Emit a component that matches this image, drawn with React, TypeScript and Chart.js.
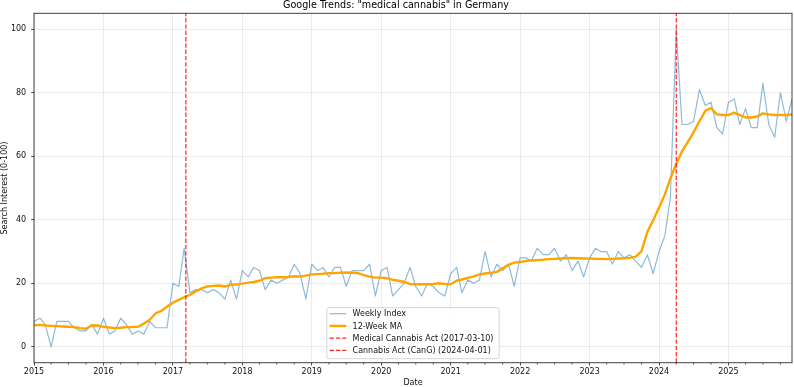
import React, { useEffect, useRef } from "react";
import { Chart, registerables } from "chart.js";

Chart.register(...registerables);

const FONT_FAMILY = '"DejaVu Sans", "Liberation Sans", sans-serif';

// Monthly observations from January 2015 through December 2025
const firstYear = 2015;

const weeklyIndex = [
  8, 9, 7, 0, 8, 8, 8, 6, 5, 5, 7, 4,
  9, 4, 5, 9, 7, 4, 5, 4, 8, 6, 6, 6,
  20, 19, 31, 17, 18, 18, 17, 18, 17, 15, 21, 15,
  24, 22, 25, 24, 18, 21, 20, 21, 22, 26, 23, 15,
  26, 24, 25, 22, 25, 25, 19, 24, 24, 24, 26, 16,
  24, 25, 16, 18, 20, 25, 19, 16, 20, 19, 17, 16,
  23, 25, 17, 21, 20, 21, 30, 22, 26, 24, 26, 19,
  28, 28, 27, 31, 29, 29, 31, 27, 29, 24, 27, 22,
  28, 31, 30, 30, 26, 30, 28, 29, 27, 25, 29, 23,
  30, 35, 47, 100, 70, 70, 71, 81, 76, 77, 69, 67,
  77, 78, 70, 75, 69, 69, 83, 70, 66, 80, 71, 78,
];

const movingAverage = [
  6.8, 6.9, 6.7, 6.6, 6.5, 6.4, 6.3, 6.2, 5.9, 5.7, 6.8, 6.7,
  6.3, 6.1, 5.9, 6.0, 6.2, 6.2, 6.3, 7.3, 8.5, 10.5, 11.3, 12.6,
  13.9, 14.8, 15.6, 16.4, 17.4, 18.4, 19.0, 19.2, 19.3, 19.0, 19.5, 19.6,
  19.9, 20.2, 20.4, 20.8, 21.6, 21.8, 21.9, 21.9, 22.0, 22.2, 22.1, 22.4,
  22.8, 22.9, 23.0, 23.2, 23.2, 23.3, 23.4, 23.3, 23.2, 22.6, 22.1, 21.8,
  21.8, 21.6, 21.1, 20.8, 20.4, 19.8, 19.7, 19.7, 19.7, 19.8, 20.0, 19.8,
  19.7, 20.8, 21.2, 21.7, 22.1, 22.8, 23.1, 23.3, 23.6, 24.7, 25.8, 26.5,
  26.7, 27.0, 27.2, 27.3, 27.4, 27.6, 27.7, 27.8, 27.9, 28.0, 27.9, 27.8,
  27.8, 27.7, 27.7, 27.6, 27.7, 27.8, 27.9, 28.0, 28.4, 30.1, 36.2, 39.8,
  43.8, 48.0, 53.0, 57.6, 61.5, 64.5, 67.5, 71.0, 74.3, 75.2, 73.2, 73.0,
  73.0, 73.7, 73.0, 72.2, 72.2, 72.5, 73.5, 73.2, 73.0, 73.0, 73.0, 73.2,
];

const yearTicks = [2015, 2016, 2017, 2018, 2019, 2020, 2021, 2022, 2023, 2024, 2025];
const interestTicks = [0, 20, 40, 60, 80, 100];
const interestRange = [-5, 105];

const eventDates = ["2017-03-10", "2024-04-01"];
const eventLabels = ["Medical Cannabis Act (2017-03-10)", "Cannabis Act (CanG) (2024-04-01)"];

const seriesLabels = ["Weekly Index", "12-Week MA"];
const titleText = 'Google Trends: "medical cannabis" in Germany';

function decimalYear(iso: string): number {
  const d = new Date(iso + "T00:00:00Z");
  const y = d.getUTCFullYear();
  const start = Date.UTC(y, 0, 1);
  const end = Date.UTC(y + 1, 0, 1);
  return y + (d.getTime() - start) / (end - start);
}

function monthDate(i: number): string {
  const y = firstYear + Math.floor(i / 12);
  const m = (i % 12) + 1;
  return `${y}-${String(m).padStart(2, "0")}-01`;
}

// Axes frame, quarterly minor ticks and the boxed legend
const framePlugin = {
  id: "frameAndLegend",
  afterDatasetsDraw(chart: any) {
    const { ctx, chartArea } = chart;
    const { left, right, top, bottom } = chartArea;
    const xScale = chart.scales.x;
    ctx.save();

    // minor ticks every quarter
    ctx.strokeStyle = "#222";
    ctx.lineWidth = 0.7;
    for (const yr of yearTicks) {
      for (const m of [4, 7, 10]) {
        const v = decimalYear(`${yr}-${String(m).padStart(2, "0")}-01`);
        if (v > xScale.max) continue;
        const px = xScale.getPixelForValue(v);
        ctx.beginPath();
        ctx.moveTo(px, bottom);
        ctx.lineTo(px, bottom + 1.8);
        ctx.stroke();
      }
    }

    // spines
    ctx.strokeStyle = "rgba(0,0,0,0.75)";
    ctx.lineWidth = 1;
    ctx.strokeRect(left, top, right - left, bottom - top);

    // legend
    const datasets = chart.data.datasets;
    ctx.font = `8px ${FONT_FAMILY}`;
    const textW = Math.max(...datasets.map((d: any) => ctx.measureText(d.label).width));
    const rowH = 12.25;
    const w = 25.7 + textW + 5.7;
    const h = 51;
    const lx = (left + right) / 2 - w / 2;
    const ly = bottom - 4 - h;
    const r = 2;
    ctx.beginPath();
    ctx.moveTo(lx + r, ly);
    ctx.lineTo(lx + w - r, ly);
    ctx.quadraticCurveTo(lx + w, ly, lx + w, ly + r);
    ctx.lineTo(lx + w, ly + h - r);
    ctx.quadraticCurveTo(lx + w, ly + h, lx + w - r, ly + h);
    ctx.lineTo(lx + r, ly + h);
    ctx.quadraticCurveTo(lx, ly + h, lx, ly + h - r);
    ctx.lineTo(lx, ly + r);
    ctx.quadraticCurveTo(lx, ly, lx + r, ly);
    ctx.closePath();
    ctx.fillStyle = "rgba(255,255,255,0.8)";
    ctx.fill();
    ctx.strokeStyle = "#cccccc";
    ctx.lineWidth = 0.8;
    ctx.stroke();

    datasets.forEach((d: any, i: number) => {
      const cy = ly + 6 + i * rowH;
      ctx.save();
      ctx.strokeStyle = d.borderColor;
      ctx.lineWidth = d.borderWidth;
      ctx.setLineDash(d.borderDash || []);
      ctx.beginPath();
      ctx.moveTo(lx + 2.7, cy);
      ctx.lineTo(lx + 19.4, cy);
      ctx.stroke();
      ctx.restore();
      ctx.fillStyle = "#111";
      ctx.textBaseline = "middle";
      ctx.textAlign = "left";
      ctx.fillText(d.label, lx + 25.7, cy + 0.5);
    });

    ctx.restore();
  },
};

export default function App() {
  const canvasRef = useRef<HTMLCanvasElement>(null);

  useEffect(() => {
    document.body.style.margin = "0";
    const canvas = canvasRef.current;
    if (!canvas) return;

    const monthX = weeklyIndex.map((_, i) => decimalYear(monthDate(i)));
    const xMax = monthX[monthX.length - 1];

    const tickFont = { family: FONT_FAMILY, size: 8 };
    const gridStyle = {
      color: "rgba(176,176,176,0.3)",
      lineWidth: 0.8,
      tickColor: "#222",
      tickLength: 2.8,
      tickWidth: 0.8,
      drawTicks: true,
    };

    const eventSets = eventDates.map((d, k) => ({
      label: eventLabels[k],
      data: [
        { x: decimalYear(d), y: interestRange[0] },
        { x: decimalYear(d), y: interestRange[1] },
      ],
      borderColor: "rgba(255,0,0,0.85)",
      borderWidth: 1.2,
      borderDash: [4.4, 1.9],
      pointRadius: 0,
      order: 1,
    }));

    const chart = new Chart(canvas, {
      type: "line",
      data: {
        datasets: [
          {
            label: seriesLabels[0],
            data: weeklyIndex.map((v, i) => ({ x: monthX[i], y: v })),
            borderColor: "rgba(31,119,180,0.5)",
            borderWidth: 1.2,
            pointRadius: 0,
            tension: 0,
            borderJoinStyle: "round",
            order: 3,
          },
          {
            label: seriesLabels[1],
            data: movingAverage.map((v, i) => ({ x: monthX[i], y: v })),
            borderColor: "#FFA500",
            borderWidth: 2.4,
            pointRadius: 0,
            tension: 0,
            borderJoinStyle: "round",
            order: 2,
          },
          ...eventSets,
        ] as any,
      },
      options: {
        responsive: false,
        animation: false,
        devicePixelRatio: 1,
        layout: { padding: { left: 0, right: 2, top: 0, bottom: 0 } },
        plugins: {
          legend: { display: false },
          tooltip: { enabled: false },
          title: {
            display: true,
            text: titleText,
            color: "#000",
            font: { family: FONT_FAMILY, size: 9.6, weight: "normal", lineHeight: 1.2 },
            padding: { top: 0.2, bottom: 1.6 },
          },
        },
        scales: {
          x: {
            type: "linear",
            min: firstYear,
            max: xMax,
            afterBuildTicks: (s: any) => {
              s.ticks = yearTicks.map((v) => ({ value: v }));
            },
            afterFit: (s: any) => {
              s.height = 24.3;
              s.paddingLeft = 0;
              s.paddingRight = 0;
            },
            ticks: {
              callback: (v: any) => String(v),
              font: tickFont,
              color: "#111",
              padding: 1.3,
              maxRotation: 0,
              autoSkip: false,
            },
            grid: gridStyle,
            border: { display: false },
            title: {
              display: true,
              text: "Date",
              color: "#111",
              font: { family: FONT_FAMILY, size: 8 },
              padding: { top: 0, bottom: -1 },
            },
          },
          y: {
            type: "linear",
            min: interestRange[0],
            max: interestRange[1],
            afterBuildTicks: (s: any) => {
              s.ticks = interestTicks.map((v) => ({ value: v }));
            },
            afterFit: (s: any) => {
              s.width = 34;
            },
            ticks: {
              callback: (v: any) => String(v),
              font: tickFont,
              color: "#111",
              padding: 5,
            },
            grid: gridStyle,
            border: { display: false },
            title: {
              display: true,
              text: "Search Interest (0-100)",
              color: "#111",
              font: { family: FONT_FAMILY, size: 8 },
              padding: { top: 0, bottom: 0 },
            },
          },
        },
      } as any,
      plugins: [framePlugin],
    });

    return () => chart.destroy();
  }, []);

  return <canvas ref={canvasRef} width={794} height={387} style={{ display: "block" }} />;
}
